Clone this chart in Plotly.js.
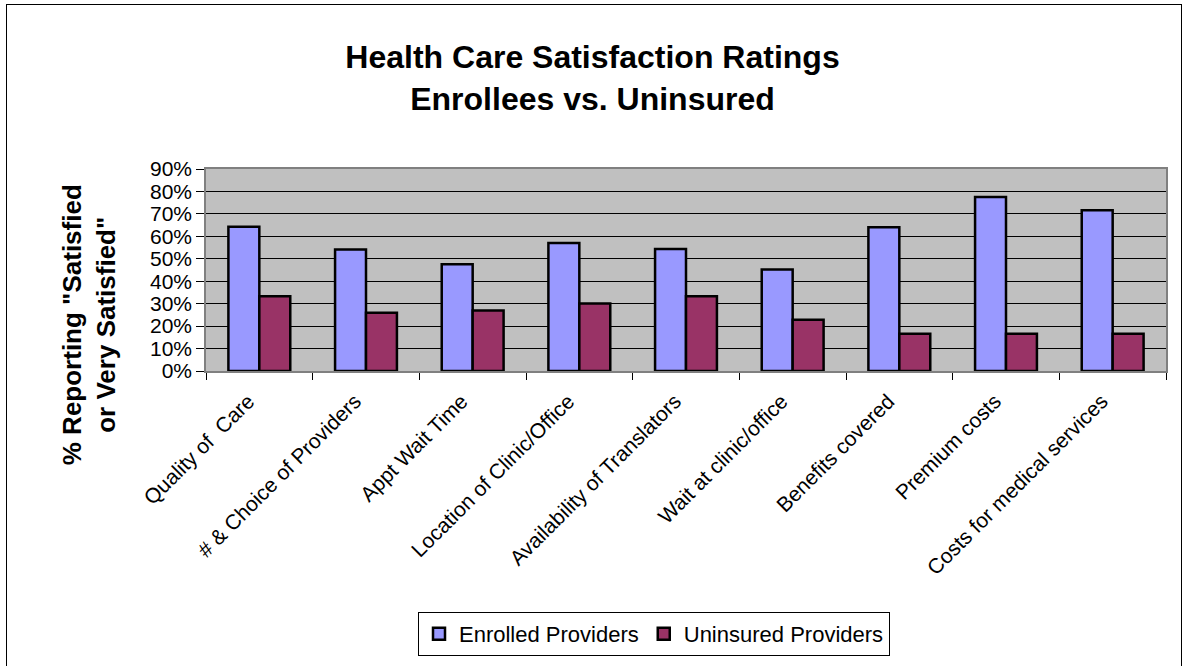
<!DOCTYPE html>
<html>
<head>
<meta charset="utf-8">
<script src="https://cdn.plot.ly/plotly-3.0.1.min.js"></script>
<style>
  html, body { margin: 0; padding: 0; background: #fff; }
  #chart { width: 1185px; height: 666px; position: relative; }
  #frame { position: absolute; left: 6px; top: 4px; width: 1176px; height: 700px;
           border: 1.5px solid #000; pointer-events: none; box-sizing: border-box; }
</style>
</head>
<body>
<div id="chart"></div>
<div id="frame"></div>
<script>
const categories = [
  "Quality of  Care",
  "# & Choice of Providers",
  "Appt Wait Time",
  "Location of Clinic/Office",
  "Availability of Translators",
  "Wait at clinic/office",
  "Benefits covered",
  "Premium costs",
  "Costs for medical services"
];
const enrolled = [0.643, 0.541, 0.476, 0.570, 0.544, 0.452, 0.640, 0.775, 0.716];
const uninsured = [0.333, 0.259, 0.270, 0.301, 0.333, 0.228, 0.166, 0.166, 0.166];
const seriesNames = ["Enrolled Providers", "Uninsured Providers"];
const seriesColors = ["#9999FF", "#993366"];

const font = "Arial, 'Liberation Sans', sans-serif";

const traces = [enrolled, uninsured].map((vals, i) => ({
  type: "bar",
  name: seriesNames[i],
  x: categories,
  y: vals,
  marker: { color: seriesColors[i], line: { color: "#000", width: 2.5 } },
  hoverinfo: "x+y"
}));

const layout = {
  width: 1185,
  height: 666,
  paper_bgcolor: "#ffffff",
  plot_bgcolor: "#C0C0C0",
  margin: { l: 206, r: 19, t: 169, b: 294 },
  font: { family: font, color: "#000" },
  barmode: "group",
  bargap: 0.42,
  bargroupgap: 0,
  showlegend: true,
  title: {
    text: "<b>Health Care Satisfaction Ratings<br>Enrollees vs. Uninsured</b>",
    font: { family: font, size: 32, color: "#000" },
    x: 0.5, xref: "container", xanchor: "center",
    y: 1 - 68 / 666, yref: "container", yanchor: "middle"
  },
  xaxis: {
    type: "category",
    tickangle: -45,
    tickfont: { family: font, size: 21, color: "#000" },
    ticks: "outside",
    tickson: "boundaries",
    ticklen: 7,
    tickcolor: "#000",
    ticklabelstandoff: 8,
    ticklabelshift: -11,
    showline: true,
    linecolor: "#808080",
    linewidth: 1.5,
    mirror: true,
    showgrid: false,
    automargin: false
  },
  yaxis: {
    range: [0, 0.9],
    dtick: 0.1,
    tick0: 0,
    tickformat: ".0%",
    tickfont: { family: font, size: 21, color: "#000" },
    ticks: "outside",
    ticklen: 8,
    tickcolor: "#000",
    showline: true,
    linecolor: "#808080",
    linewidth: 1.5,
    mirror: true,
    showgrid: true,
    gridcolor: "#000",
    gridwidth: 1,
    zeroline: false,
    automargin: false
  },
  legend: {
    orientation: "h",
    x: (654 - 206) / 960,
    xanchor: "center",
    y: (372 - 612) / 203,
    yanchor: "top",
    bordercolor: "#000",
    borderwidth: 1,
    bgcolor: "#fff",
    font: { family: font, size: 22, color: "#000" },
    itemwidth: 30,
    traceorder: "normal"
  },
  annotations: [{
    text: "<b>% Reporting \"Satisfied<br>or Very Satisfied\"</b>",
    textangle: -90,
    xref: "paper", yref: "paper",
    x: (89 - 206) / 960, y: (372 - 326) / 203,
    xanchor: "center", yanchor: "middle",
    showarrow: false,
    font: { family: font, size: 26, color: "#000" }
  }]
};

Plotly.newPlot("chart", traces, layout, { displayModeBar: false });
</script>
</body>
</html>
